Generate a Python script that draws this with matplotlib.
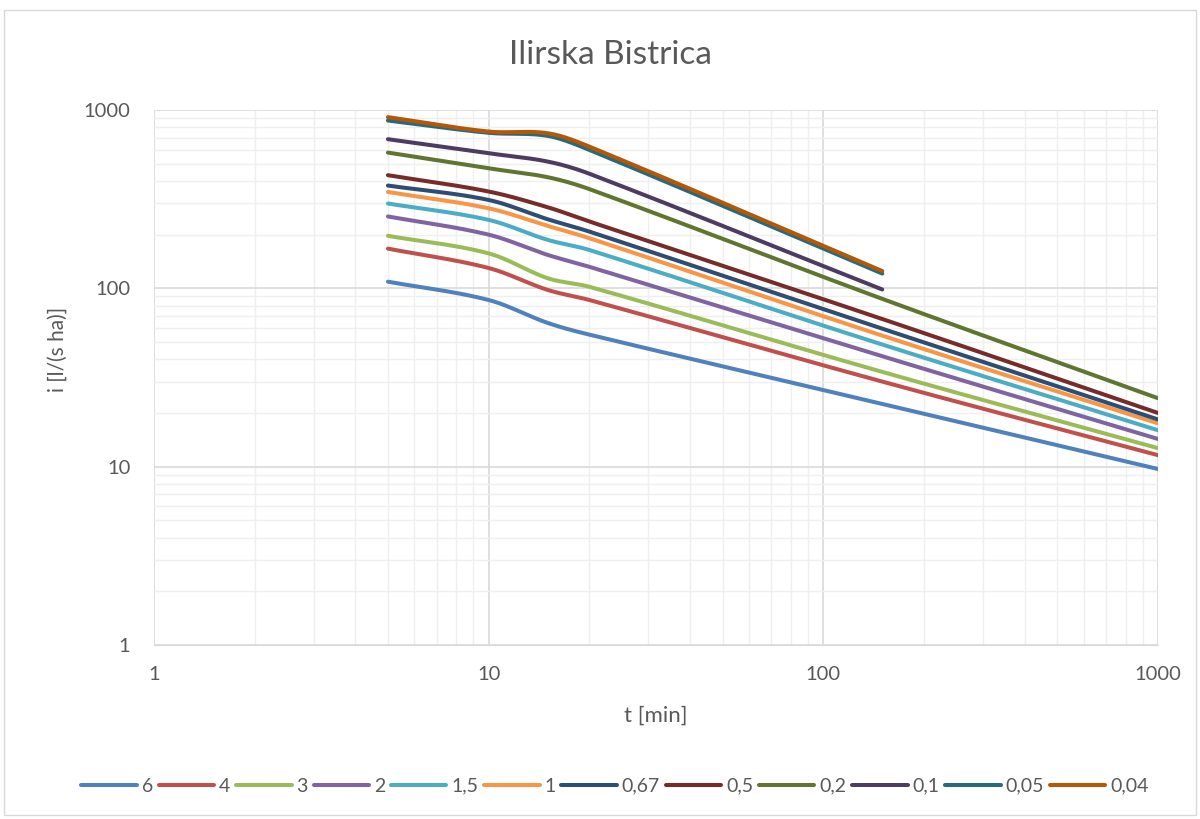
import numpy as np
import matplotlib
matplotlib.use("Agg")
import matplotlib.pyplot as plt
from matplotlib.ticker import FixedLocator, NullFormatter, LogLocator, FuncFormatter
from matplotlib.patches import Rectangle

plt.rcParams['font.family'] = ['Lato', 'DejaVu Sans']

# ---- data ----
labels = ["6", "4", "3", "2", "1,5", "1", "0,67", "0,5", "0,2", "0,1", "0,05", "0,04"]
colors = ["#4F81BD", "#C0504D", "#9BBB59", "#8064A2", "#4BACC6", "#F79646",
          "#2C4D75", "#772C2A", "#5F7530", "#4D3B62", "#276A7C", "#B65708"]

t_long = [5, 10, 15, 20, 150, 1000]
t_short = [5, 10, 15, 20, 150]

i_6    = [109, 86, 64, 55, 22.5, 9.7]
i_4    = [167, 130, 98, 86, 30.0, 11.6]
i_3    = [197, 157, 114, 102, 34.0, 12.7]
i_2    = [253, 200, 154, 132, 41.6, 14.3]
i_1_5  = [299, 242, 187, 164, 48.4, 16.0]
i_1    = [347, 281, 224, 191, 54.3, 17.5]
i_0_67 = [377, 313, 244, 208, 59.4, 18.4]
i_0_5  = [431, 349, 285, 237, 67.3, 20.0]
i_0_2  = [577, 471, 420, 360, 87.3, 24.2]
i_0_1  = [686, 572, 514, 439, 98.5]
i_0_05 = [873, 745, 716, 597, 121]
i_0_04 = [912, 757, 741, 623, 125]

series = [i_6, i_4, i_3, i_2, i_1_5, i_1, i_0_67, i_0_5, i_0_2, i_0_1, i_0_05, i_0_04]


def smooth(xs, ys, n=40):
    """Smoothed line (cubic Hermite, secant tangents) in log-log space."""
    x = np.log10(np.asarray(xs, float))
    y = np.log10(np.asarray(ys, float))
    h = np.diff(x)
    d = np.diff(y) / h
    m = np.zeros_like(x)
    m[0], m[-1] = d[0], d[-1]
    for k in range(1, len(x) - 1):
        m[k] = (y[k + 1] - y[k - 1]) / (x[k + 1] - x[k - 1])
    ox, oy = [], []
    s = np.linspace(0, 1, n, endpoint=False)
    for k in range(len(x) - 1):
        h00 = 2 * s ** 3 - 3 * s ** 2 + 1
        h10 = s ** 3 - 2 * s ** 2 + s
        h01 = -2 * s ** 3 + 3 * s ** 2
        h11 = s ** 3 - s ** 2
        ox.extend(x[k] + s * h[k])
        oy.extend(h00 * y[k] + h10 * h[k] * m[k] + h01 * y[k + 1] + h11 * h[k] * m[k + 1])
    ox.append(x[-1])
    oy.append(y[-1])
    return 10 ** np.array(ox), 10 ** np.array(oy)


fig = plt.figure(figsize=(12, 8.19), dpi=100)
fig.patch.set_facecolor("white")
fig.patches.append(Rectangle((4 / 1200, 4 / 819), 1 - 8 / 1200, 1 - 14 / 819,
                             transform=fig.transFigure, fill=False,
                             edgecolor="#d9d9d9", linewidth=1.0))

ax = fig.add_axes([154 / 1200, 1 - 645 / 819, (1158 - 154) / 1200, (645 - 110) / 819])
ax.set_xscale("log")
ax.set_yscale("log")
ax.set_xlim(1, 1000)
ax.set_ylim(1, 1000)

for vals, col, lab in zip(series, colors, labels):
    tt = t_long if len(vals) == len(t_long) else t_short
    sx, sy = smooth(tt, vals)
    ax.plot(sx, sy, color=col, lw=2.9, label=lab, solid_capstyle="round", zorder=3)

ax.xaxis.set_major_locator(FixedLocator([1, 10, 100, 1000]))
ax.yaxis.set_major_locator(FixedLocator([1, 10, 100, 1000]))
ax.xaxis.set_minor_locator(LogLocator(base=10, subs=np.arange(2, 10)))
ax.yaxis.set_minor_locator(LogLocator(base=10, subs=np.arange(2, 10)))
fmt = FuncFormatter(lambda v, p: f"{v:g}")
ax.xaxis.set_major_formatter(fmt)
ax.yaxis.set_major_formatter(fmt)
ax.xaxis.set_minor_formatter(NullFormatter())
ax.yaxis.set_minor_formatter(NullFormatter())

ax.grid(which="major", color="#d9d9d9", lw=1.2, zorder=0)
ax.grid(which="minor", color="#efefef", lw=1.0, zorder=0)
ax.set_axisbelow(True)
for s in ["top", "right", "left"]:
    ax.spines[s].set_visible(False)
ax.spines["bottom"].set_color("#d9d9d9")
ax.tick_params(which="both", length=0, labelsize=14.5, labelcolor="#595959")
ax.tick_params(axis="x", pad=15)
ax.tick_params(axis="y", pad=17)

fig.text(610 / 1200, 1 - 55 / 819, "Ilirska Bistrica", fontsize=24, color="#595959",
         ha="center", va="center")
ax.set_xlabel("t [min]", fontsize=16, color="#595959")
ax.xaxis.set_label_coords(0.5, -(716 - 645) / 535)
ax.xaxis.label.set_va("center")
ax.set_ylabel("i [l/(s ha)]", fontsize=15, color="#595959")
ax.yaxis.set_label_coords((58 - 154) / 1004, (645 - 349) / 535)
ax.yaxis.label.set_va("center")

handles, labs = ax.get_legend_handles_labels()
leg = fig.legend(handles, labs, loc="center", bbox_to_anchor=(615 / 1200, 1 - 786 / 819),
                 ncol=12, frameon=False, fontsize=14, handlelength=2.85,
                 handletextpad=0.25, columnspacing=0.3, labelcolor="#595959")

fig.savefig("out.png", dpi=100, facecolor="white")
